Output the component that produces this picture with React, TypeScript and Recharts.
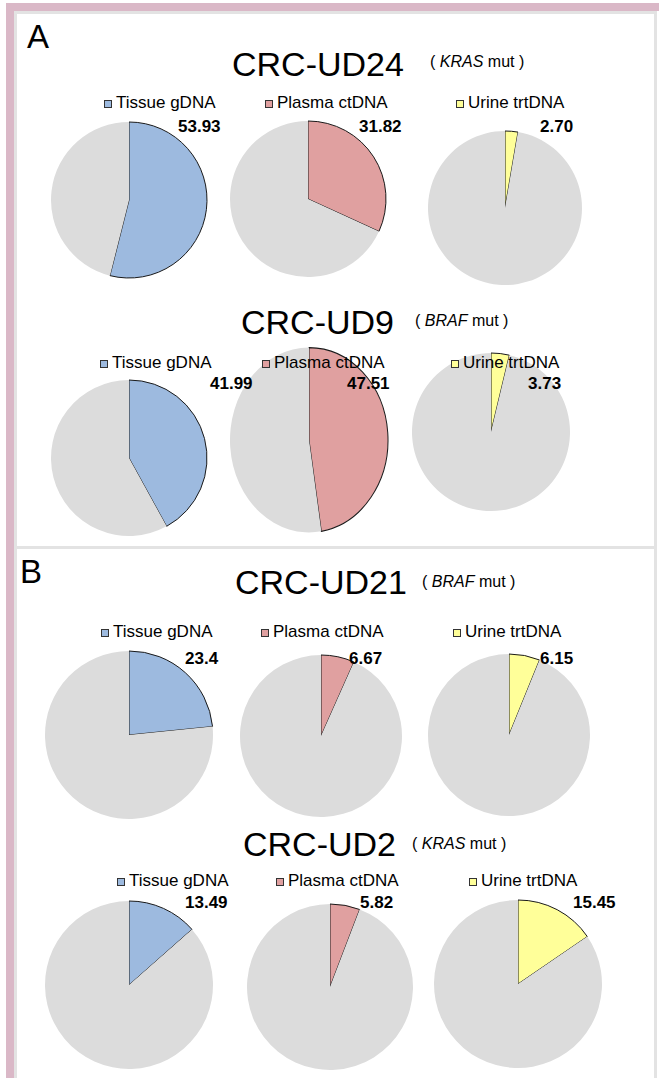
import React from 'react';
import { PieChart, Pie, Cell } from 'recharts';

const patients = ['CRC-UD24', 'CRC-UD9', 'CRC-UD21', 'CRC-UD2'];
const mutations = ['KRAS', 'BRAF', 'BRAF', 'KRAS'];
const panelLetters = ['A', 'B'];
const sampleTypes = ['Tissue gDNA', 'Plasma ctDNA', 'Urine trtDNA'];
const tissueValues = [53.93, 41.99, 23.4, 13.49];
const plasmaValues = [31.82, 47.51, 6.67, 5.82];
const urineValues = [2.7, 3.73, 6.15, 15.45];
const tissueLabels = ['53.93', '41.99', '23.4', '13.49'];
const plasmaLabels = ['31.82', '47.51', '6.67', '5.82'];
const urineLabels = ['2.70', '3.73', '6.15', '15.45'];

const sampleColors = ['#9dbadf', '#e0a0a0', '#ffff99'];
const restColor = '#dcdcdc';
const FONT = '"Liberation Sans", Arial, Helvetica, sans-serif';

// layout (positions only)
const rowLayout = [
  { titleX: 232, titleY: 76, geneX: 430, geneY: 67, legY: 108, valY: 132,
    legX: [104, 265, 456], valX: [178, 359, 540],
    pies: [{ cx: 129, cy: 200, r: 78, sy: 1 }, { cx: 308, cy: 199, r: 78, sy: 1 }, { cx: 505, cy: 208, r: 77, sy: 1 }] },
  { titleX: 241, titleY: 334, geneX: 415, geneY: 326, legY: 368, valY: 389,
    legX: [100, 262, 451], valX: [210, 347, 528],
    pies: [{ cx: 129, cy: 458, r: 78, sy: 1 }, { cx: 309, cy: 440, r: 79, sy: 1.17 }, { cx: 491, cy: 432, r: 79, sy: 1 }] },
  { titleX: 235, titleY: 594, geneX: 422, geneY: 587, legY: 637, valY: 664,
    legX: [101, 261, 453], valX: [185, 349, 540],
    pies: [{ cx: 129, cy: 735, r: 84, sy: 1 }, { cx: 321, cy: 736, r: 81, sy: 1 }, { cx: 509, cy: 735, r: 81, sy: 1 }] },
  { titleX: 243, titleY: 856, geneX: 412, geneY: 849, legY: 886, valY: 908,
    legX: [117, 276, 469], valX: [185, 360, 573],
    pies: [{ cx: 129, cy: 985, r: 84, sy: 1 }, { cx: 330, cy: 987, r: 83, sy: 1 }, { cx: 518, cy: 984, r: 84, sy: 1 }] },
];

const valuesBySample = [tissueValues, plasmaValues, urineValues];
const labelsBySample = [tissueLabels, plasmaLabels, urineLabels];

function SinglePie({ value, color, cx, cy, r, sy }: { value: number; color: string; cx: number; cy: number; r: number; sy: number }) {
  const size = 2 * r + 6;
  const data = [
    { name: 'mut', value },
    { name: 'rest', value: 100 - value },
  ];
  return (
    <div style={{ position: 'absolute', left: cx - size / 2, top: cy - size / 2, width: size, height: size, transform: `scaleY(${sy})`, transformOrigin: '50% 50%' }}>
      <PieChart width={size} height={size} margin={{ top: 0, right: 0, bottom: 0, left: 0 }}>
        <Pie
          data={data}
          dataKey="value"
          cx="50%"
          cy="50%"
          outerRadius={r}
          innerRadius={0}
          startAngle={90}
          endAngle={-270}
          isAnimationActive={false}
          label={false}
          labelLine={false}
        >
          <Cell key="m" fill={color} stroke="#1a1a1a" strokeWidth={1} />
          <Cell key="r" fill={restColor} stroke="none" strokeWidth={0} />
        </Pie>
      </PieChart>
    </div>
  );
}

export default function App() {
  return (
    <div style={{ position: 'absolute', left: 0, top: 0, width: 659, height: 1078, background: '#ffffff', overflow: 'hidden', fontFamily: FONT }}>
      {/* pink frame */}
      <div style={{ position: 'absolute', left: 6, top: 3, width: 653, height: 8, background: '#dab8c7' }} />
      <div style={{ position: 'absolute', left: 6, top: 3, width: 8, height: 1075, background: '#dab8c7' }} />
      {/* panels */}
      <div style={{ position: 'absolute', left: 14, top: 11, width: 637, height: 532, border: '3px solid #e3e3e3' }} />
      <div style={{ position: 'absolute', left: 14, top: 546, width: 637, height: 540, border: '3px solid #e3e3e3' }} />

      {rowLayout.map((row, ri) =>
        row.pies.map((p, si) => (
          <SinglePie key={`${ri}-${si}`} value={valuesBySample[si][ri]} color={sampleColors[si]} cx={p.cx} cy={p.cy} r={p.r} sy={p.sy} />
        ))
      )}

      <svg width={659} height={1078} style={{ position: 'absolute', left: 0, top: 0 }} fontFamily={FONT}>
        <text x={27} y={48} fontSize={33} fill="#000">{panelLetters[0]}</text>
        <text x={20} y={583} fontSize={33} fill="#000">{panelLetters[1]}</text>
        {rowLayout.map((row, ri) => (
          <g key={ri}>
            <text x={row.titleX} y={row.titleY} fontSize={34} fill="#000">{patients[ri]}</text>
            <text x={row.geneX} y={row.geneY} fontSize={16} fill="#000">
              {'( '}<tspan fontStyle="italic">{mutations[ri]}</tspan>{'  mut )'}
            </text>
            {sampleTypes.map((s, si) => (
              <g key={si}>
                <rect x={row.legX[si] + 0.5} y={row.legY - 7.5} width={7} height={7} fill={sampleColors[si]} stroke="#333" strokeWidth={1} />
                <text x={row.legX[si] + 12} y={row.legY} fontSize={17} fill="#000">{s}</text>
                <text x={row.valX[si]} y={row.valY} fontSize={17} fontWeight="bold" fill="#000">{labelsBySample[si][ri]}</text>
              </g>
            ))}
          </g>
        ))}
      </svg>
    </div>
  );
}
